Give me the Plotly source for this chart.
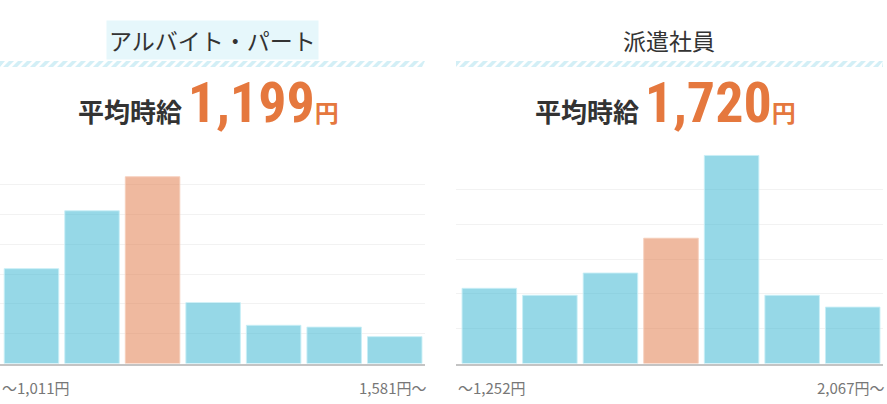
import plotly.graph_objects as go

W, H = 887, 404

# --- data ---
bins = ["1", "2", "3", "4", "5", "6", "7"]
part_share = [15.9, 25.6, 31.3, 10.2, 6.4, 6.1, 4.5]     # アルバイト・パート (%)
haken_share = [10.8, 9.8, 13.0, 18.0, 29.9, 9.8, 8.1]   # 派遣社員 (%)
avg_bin = [2, 3]                                        # bin that holds the average
titles = ["アルバイト・パート", "派遣社員"]
avg_wage = ["1,199", "1,720"]
low_labels = ["〜1,011円", "〜1,252円"]
high_labels = ["1,581円〜", "2,067円〜"]

COLORS = {
    "bar": "rgba(54,181,209,0.52)",
    "bar_avg": "rgba(224,120,70,0.52)",
    "bar_line_blue": "rgba(200,238,246,0.9)",
    "bar_line_orange": "rgba(245,205,185,0.9)",
    "orange": "#e5783e",
    "text": "#333333",
    "label": "#777777",
    "stripe": "#d3eff6",
    "title_bg": "#e6f7fb",
    "grid": "#f2f2f2",
    "axis": "#c4c4c4",
}
JP = "Noto Sans CJK JP"
NUM = "Liberation Sans Narrow, Roboto Condensed, Arial Narrow, Roboto, sans-serif"

# pixel layout of the two panels
panels = [
    dict(x0=0, x1=425, xr=[-0.52, 6.5], yr=[0, 35], cx_title=212, cx_avg=208),
    dict(x0=456, x1=883, xr=[-0.55, 6.5], yr=[0, 30], cx_title=669, cx_avg=665),
]
plot_top, plot_bot = 154.7, 363.5


def px(x):
    return x / W


def py(y):
    return (H - y) / H


fig = go.Figure()
series = [part_share, haken_share]
annotations = []
shapes = []

for i, (p, vals) in enumerate(zip(panels, series)):
    ax = "" if i == 0 else str(i + 1)
    fill = [COLORS["bar_avg"] if k == avg_bin[i] else COLORS["bar"] for k in range(len(vals))]
    edge = [COLORS["bar_line_orange"] if k == avg_bin[i] else COLORS["bar_line_blue"] for k in range(len(vals))]
    fig.add_trace(go.Bar(
        x=bins, y=vals,
        xaxis="x" + ax, yaxis="y" + ax,
        marker=dict(color=fill, line=dict(color=edge, width=1)),
        showlegend=False, hoverinfo="skip",
    ))
    fig.layout["xaxis" + ax] = dict(
        domain=[px(p["x0"]), px(p["x1"])], range=p["xr"], anchor="y" + ax,
        showticklabels=False, ticks="", showgrid=False, zeroline=False,
        showline=True, linecolor=COLORS["axis"], linewidth=2, layer="below traces",
        fixedrange=True,
    )
    fig.layout["yaxis" + ax] = dict(
        domain=[py(plot_bot), py(plot_top)], range=p["yr"], dtick=5, anchor="x" + ax,
        showticklabels=False, ticks="", showgrid=True, gridcolor=COLORS["grid"],
        gridwidth=1, zeroline=False, showline=False, fixedrange=True,
    )

    # panel title
    annotations.append(dict(
        x=px(p["cx_title"]), y=py(40), xref="paper", yref="paper",
        text=titles[i], showarrow=False, xanchor="center", yanchor="middle",
        font=dict(family=JP, size=23, color=COLORS["text"]),
        bgcolor=COLORS["title_bg"] if i == 0 else None, borderpad=2,
    ))

    # striped band under the title
    path = ""
    step, lean, sw = 9.0, 6.0, 5.0
    yt, yb = 61.0, 67.0
    x = p["x0"] - lean
    while x < p["x1"]:
        xa = max(x, p["x0"])
        xb = min(x + sw, p["x1"])
        xc = min(x + sw + lean, p["x1"])
        xd = min(max(x + lean, p["x0"]), p["x1"])
        if xb > xa or xc > xd:
            path += "M{:.4f},{:.4f} L{:.4f},{:.4f} L{:.4f},{:.4f} L{:.4f},{:.4f} Z ".format(
                px(xa), py(yb), px(max(xb, xa)), py(yb), px(xc), py(yt), px(xd), py(yt))
        x += step
    shapes.append(dict(type="path", xref="paper", yref="paper", path=path,
                       fillcolor=COLORS["stripe"], line=dict(width=0), layer="below"))

    # average wage line
    text = (
        "<span style='font-family:{jp};font-size:26px;color:{c}'><b>平均時給</b></span> "
        "<span style='font-family:{num};font-size:56px;color:{o}'><b>{v}</b></span>"
        "<span style='font-family:{jp};font-size:24px;color:{o}'><b>円</b></span>"
    ).format(jp=JP, num=NUM, c=COLORS["text"], o=COLORS["orange"], v=avg_wage[i])
    annotations.append(dict(
        x=px(p["cx_avg"]), y=py(103), xref="paper", yref="paper",
        text=text, showarrow=False, xanchor="center", yanchor="middle",
        font=dict(family=JP, size=26, color=COLORS["text"]),
    ))

    # range labels
    annotations.append(dict(
        x=px(p["x0"]), y=py(387), xref="paper", yref="paper", text=low_labels[i],
        showarrow=False, xanchor="left", yanchor="middle",
        font=dict(family=JP, size=15, color=COLORS["label"]),
    ))
    annotations.append(dict(
        x=px(p["x1"] + 3), y=py(387), xref="paper", yref="paper", text=high_labels[i],
        showarrow=False, xanchor="right", yanchor="middle",
        font=dict(family=JP, size=15, color=COLORS["label"]),
    ))

fig.update_layout(
    width=W, height=H, autosize=False,
    margin=dict(l=0, r=0, t=0, b=0),
    paper_bgcolor="white", plot_bgcolor="white",
    bargap=0.1,
    annotations=annotations,
    shapes=shapes,
)

# the page's default body margin would shift the chart by 8px
fig.write_html("out.html", config={"displayModeBar": False},
               post_script="document.body.style.margin='0';")
